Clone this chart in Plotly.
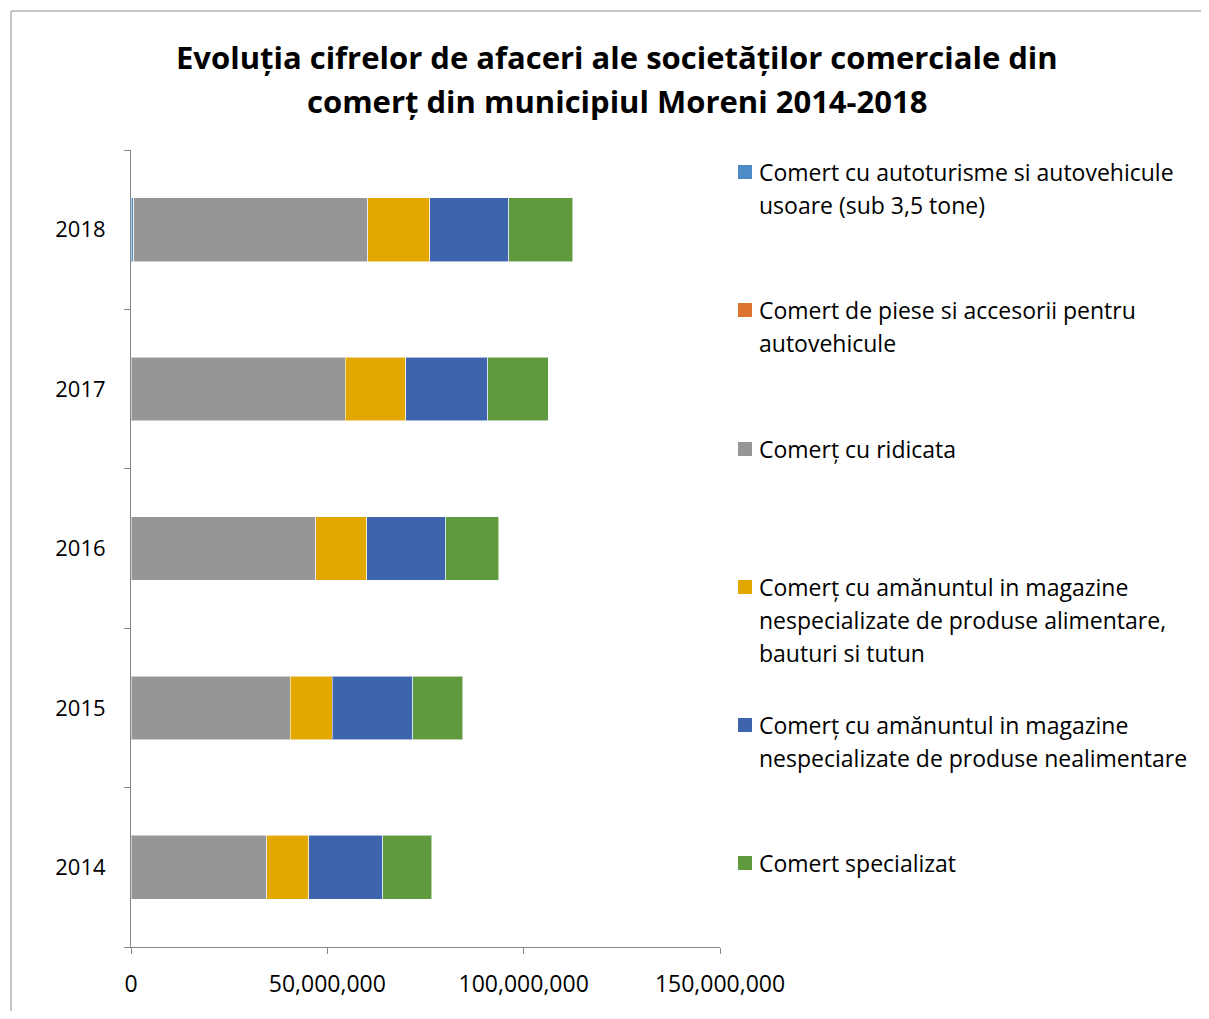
import plotly.graph_objects as go

years = ["2014", "2015", "2016", "2017", "2018"]

series_names = [
    "Comert cu autoturisme si autovehicule usoare (sub 3,5 tone)",
    "Comert de piese si accesorii pentru autovehicule",
    "Comerț cu ridicata",
    "Comerț cu amănuntul in magazine nespecializate de produse alimentare, bauturi si tutun",
    "Comerț cu amănuntul in magazine nespecializate de produse nealimentare",
    "Comert specializat",
]
legend_lines = [
    ["Comert cu autoturisme si autovehicule", "usoare (sub 3,5 tone)"],
    ["Comert de piese si accesorii pentru", "autovehicule"],
    ["Comerț cu ridicata"],
    ["Comerț cu amănuntul in magazine", "nespecializate de produse alimentare,", "bauturi si tutun"],
    ["Comerț cu amănuntul in magazine", "nespecializate de produse nealimentare"],
    ["Comert specializat"],
]
title_lines = [
    "Evoluția cifrelor de afaceri ale societăților comerciale din",
    "comerț din municipiul Moreni 2014-2018",
]

autoturisme = [0, 0, 0, 0, 700000]
piese = [0, 0, 0, 0, 0]
ridicata = [34600000, 40500000, 47100000, 54500000, 59600000]
amanunt_alim = [10700000, 10700000, 13000000, 15500000, 15800000]
amanunt_nealim = [18800000, 20600000, 20100000, 20900000, 20100000]
specializat = [12500000, 12700000, 13500000, 15300000, 16300000]

values = [autoturisme, piese, ridicata, amanunt_alim, amanunt_nealim, specializat]
colors = ["#4E8AC6", "#DC7430", "#969696", "#E3A800", "#3E64AD", "#5F9B3E"]

x_ticks = [0, 50000000, 100000000, 150000000]

FONT = "Open Sans"

fig = go.Figure()
for name, vals, col in zip(series_names, values, colors):
    fig.add_trace(go.Bar(
        y=years, x=vals, name=name, orientation="h",
        marker=dict(color=col, line=dict(color="rgba(255,255,255,0.55)", width=1)),
        showlegend=False,
    ))

# page body has an 8px margin; figure coords = screen coords - 8
OFF = 8
W, H = 1209 - 2 * OFF, 1019 - 2 * OFF
L, T = 131 - OFF, 150 - OFF
R = W - (720 - OFF)
B = H - (947 - OFF)
pw = W - L - R
ph = H - T - B

def px_x(p):
    return (p - OFF - L) / pw

def px_y(p):
    return (H - B - (p - OFF)) / ph

shapes = [
    dict(type="rect", xref="paper", yref="paper",
         x0=px_x(11), x1=px_x(1240), y0=px_y(1050), y1=px_y(11),
         line=dict(color="#8C8C8C", width=1), fillcolor="rgba(0,0,0,0)", layer="below"),
]
annotations = []
for ln, yc in zip(title_lines, [57, 101]):
    annotations.append(dict(
        xref="paper", yref="paper", x=px_x(617), y=px_y(yc),
        xanchor="center", yanchor="middle", showarrow=False, text=ln,
        font=dict(family=FONT, size=31, color="#000000", weight="bold"),
    ))

entry_first_centers = [172, 310, 449, 587, 725, 863]
line_h = 33
for lines, col, yc in zip(legend_lines, colors, entry_first_centers):
    shapes.append(dict(type="rect", xref="paper", yref="paper",
                       x0=px_x(738), x1=px_x(752), y0=px_y(yc + 7), y1=px_y(yc - 7),
                       fillcolor=col, line=dict(width=0)))
    for i, ln in enumerate(lines):
        annotations.append(dict(
            xref="paper", yref="paper", x=px_x(757), y=px_y(yc + i * line_h),
            xanchor="left", yanchor="middle", showarrow=False, text=ln,
            font=dict(family=FONT, size=23, color="#000000"),
        ))

fig.update_layout(
    width=W, height=H,
    margin=dict(l=L, r=R, t=T, b=B),
    paper_bgcolor="white", plot_bgcolor="white",
    barmode="stack", bargap=0.6,
    xaxis=dict(
        range=[0, 150000000], tickvals=x_ticks, tickformat=",d",
        showgrid=False, zeroline=False, showline=True, linecolor="#868686", linewidth=1,
        ticks="outside", ticklen=6, tickcolor="#868686",
        tickfont=dict(family=FONT, size=23, color="#000000"), ticklabelstandoff=10,
    ),
    yaxis=dict(
        type="category", categoryorder="array", categoryarray=years,
        range=[-0.5, 4.5], tickson="boundaries",
        showgrid=False, zeroline=False, showline=True, linecolor="#868686", linewidth=1,
        ticks="outside", ticklen=6, tickcolor="#868686",
        tickfont=dict(family=FONT, size=22, color="#000000"), ticklabelstandoff=20,
    ),
    shapes=shapes, annotations=annotations,
)

fig.write_html("out.html")
